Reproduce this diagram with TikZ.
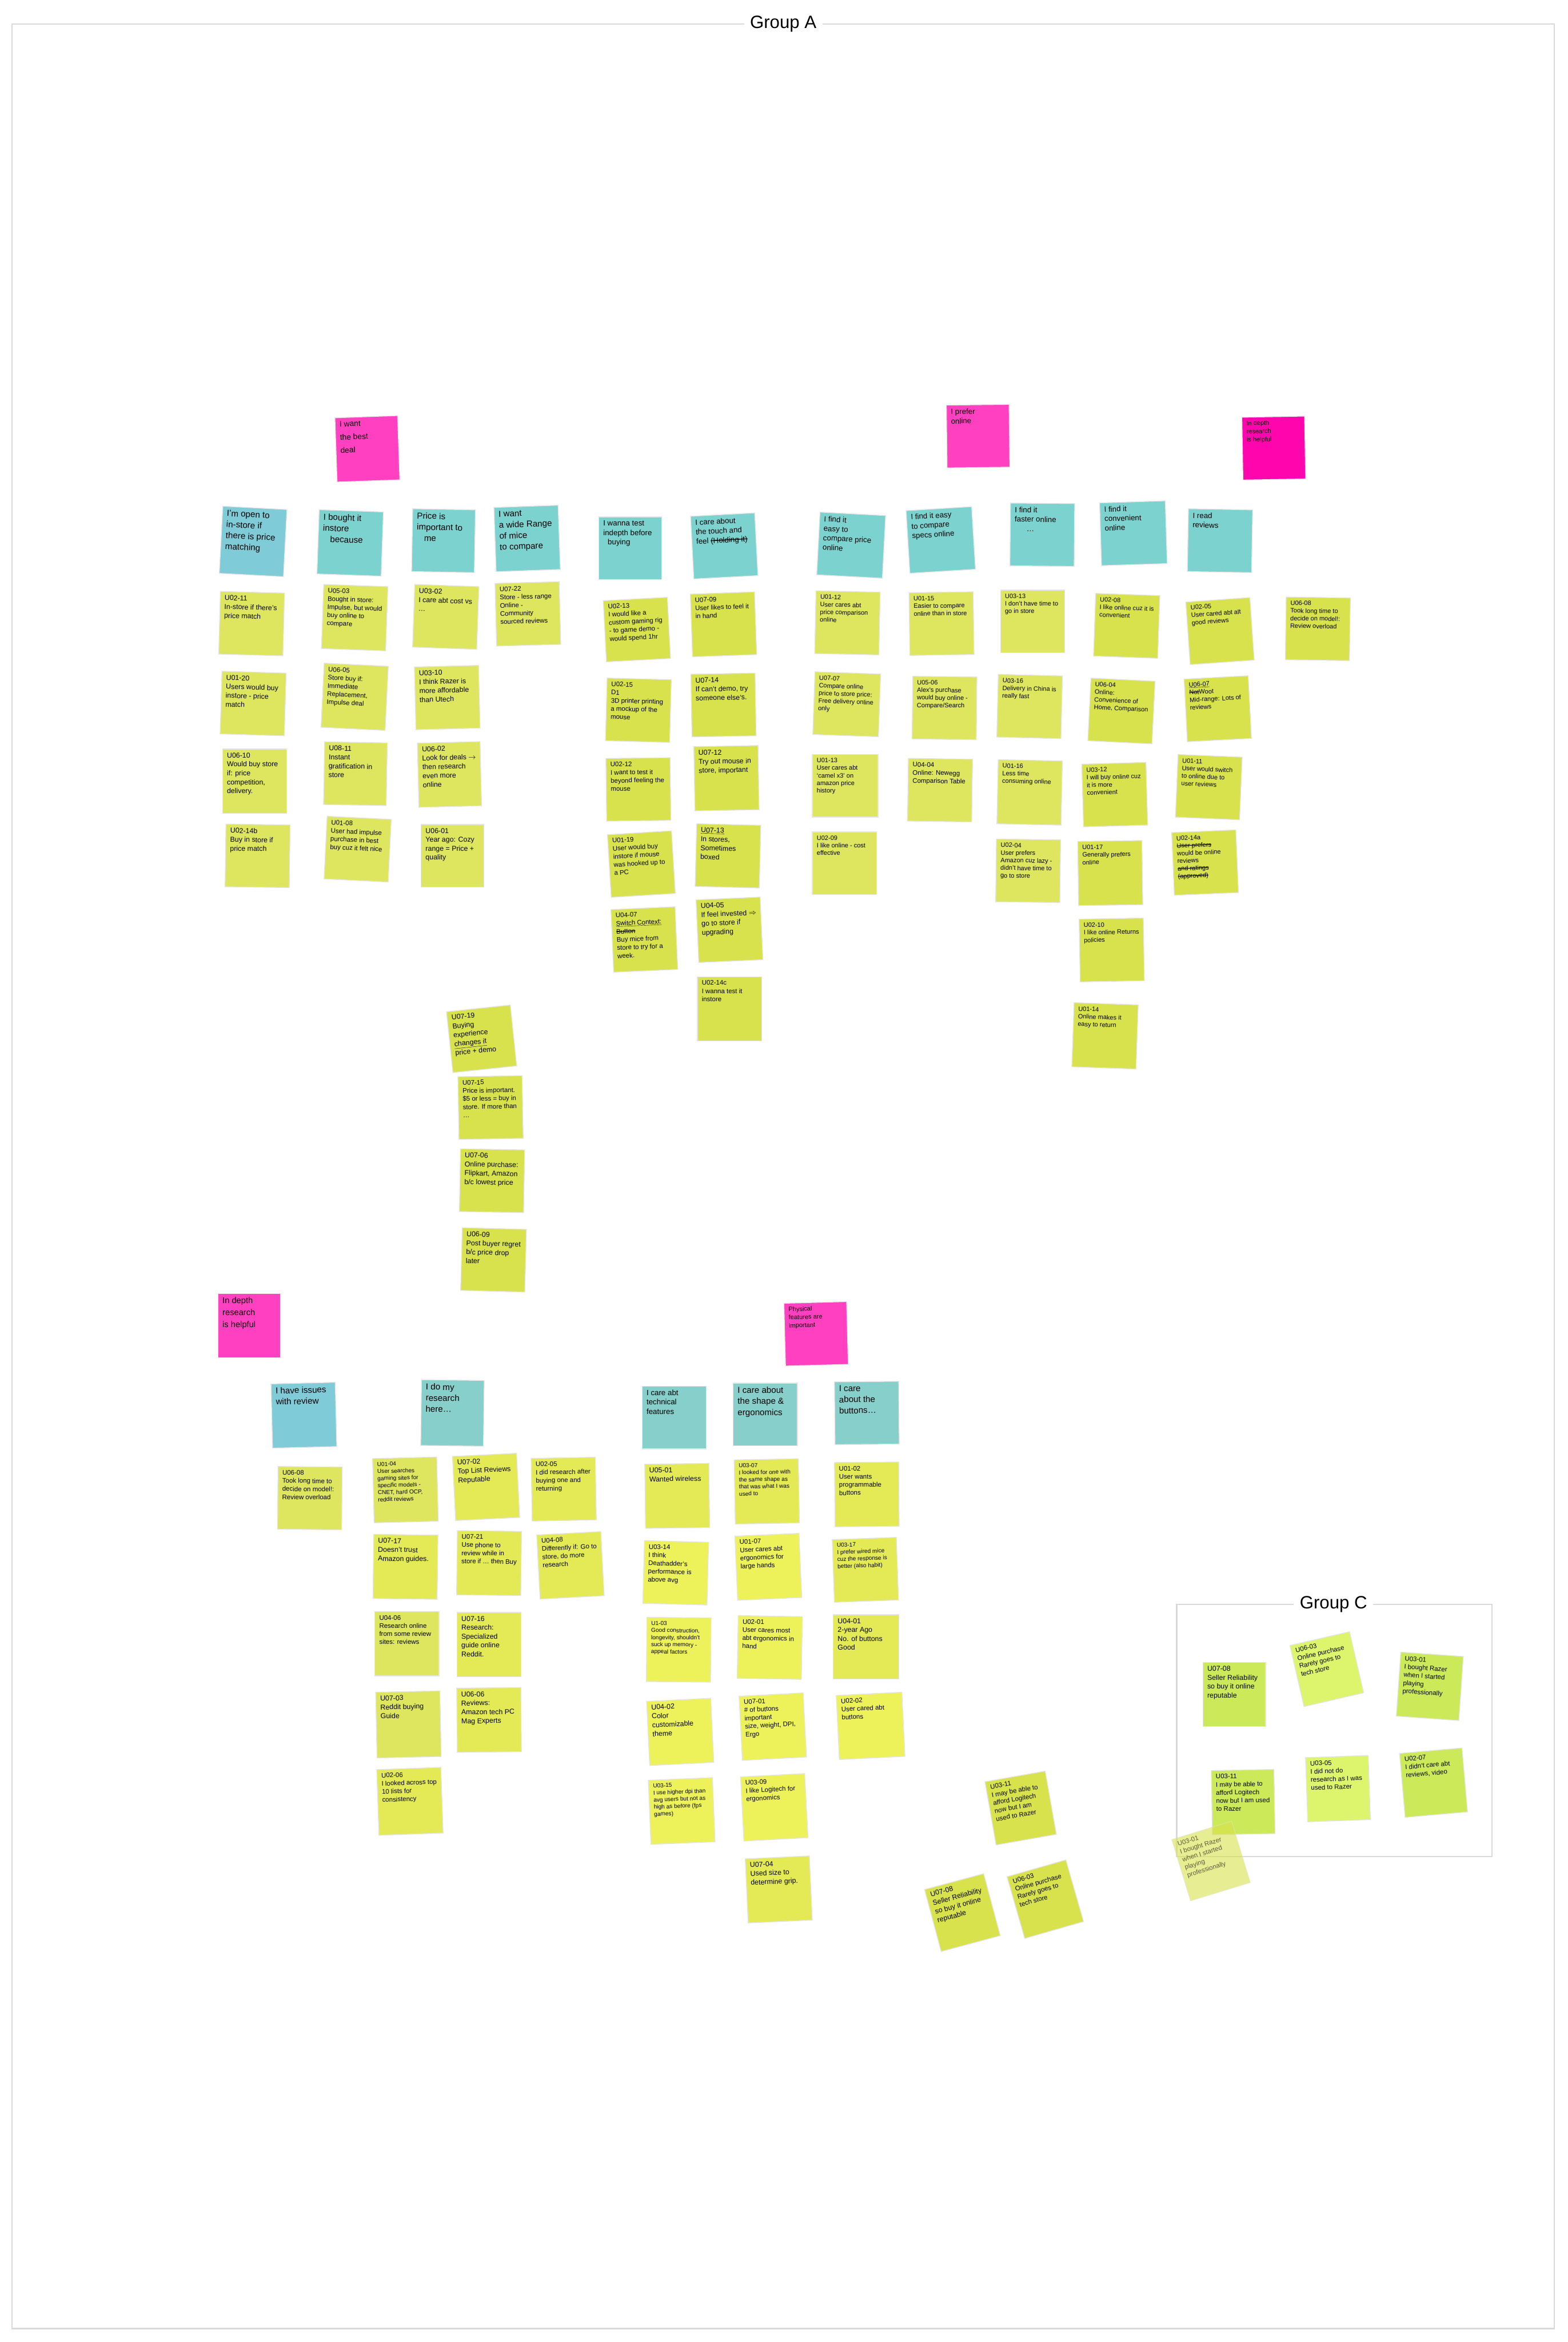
\documentclass[tikz,border=0pt]{standalone}
\usepackage{fontspec}
\setmainfont{Liberation Sans}
\definecolor{pinkA}{HTML}{FF40C0}
\definecolor{magA}{HTML}{FF05AE}
\definecolor{tealA}{HTML}{80CBD8}
\definecolor{tealB}{HTML}{7CD2CF}
\definecolor{tealC}{HTML}{86CFCB}
\definecolor{yelA}{HTML}{DDE65E}
\definecolor{yelB}{HTML}{D8E24C}
\definecolor{yelC}{HTML}{E3EA56}
\definecolor{yelD}{HTML}{EDF25A}
\definecolor{grnA}{HTML}{CCE95A}
\definecolor{grnB}{HTML}{DCF56C}
\newcommand{\ttx}{\fontsize{16.5}{21}\selectfont}
\newcommand{\tmx}{\fontsize{14.5}{18}\selectfont}
\newcommand{\tsx}{\fontsize{12}{15.5}\selectfont}
\newcommand{\ptx}{\fontsize{15}{25}\selectfont}
\newcommand{\pbx}{\fontsize{16}{23}\selectfont}
\newcommand{\ylg}{\fontsize{13.5}{17}\selectfont}
\newcommand{\ytx}{\fontsize{12.5}{15.5}\selectfont}
\newcommand{\yrt}{\fontsize{12}{14.5}\selectfont}
\newcommand{\ysm}{\fontsize{11}{13.5}\selectfont}
\newcommand{\strk}[1]{\leavevmode\setbox0\hbox{#1}\rlap{\rule[0.3em]{\wd0}{0.1em}}\box0}
\newcommand{\undl}[1]{\underline{#1}}
\tikzset{
  sticky/.style={draw=black!10, line width=0.5mm, inner xsep=3mm, inner ysep=2.5mm, outer sep=0pt, text=black},
  frameline/.style={draw=black!15, line width=0.8mm},
  grouplabel/.style={fill=white, inner xsep=4mm, inner ysep=1mm, text=black, font=\fontsize{34}{40}\selectfont}
}
\newcommand{\stk}[9]{\node[sticky,fill=#7,rotate=#6] (#1) at (#2,#3) {\parbox[c][\dimexpr #5mm-5mm\relax][t]{\dimexpr #4mm-6mm\relax}{#8\raggedright #9\par}};}
\begin{document}
\begin{tikzpicture}[x=1mm,y=-1mm]
\useasboundingbox (0,0) rectangle (1050,1568);
\fill[white] (0,0) rectangle (1050,1568);
% frames
\draw[frameline] (8,16) rectangle (1041,1559);
\node[grouplabel] (gA) at (524.5,16) {Group A};
\draw[frameline] (788,1074) rectangle (999,1243);
\node[grouplabel] (gC) at (893,1074) {Group C};
% ---- top-left cluster
\stk{pA}{246}{300.5}{42}{43}{2}{pinkA}{\ptx}{I want\\the best\\deal}
\stk{tA1}{169.5}{362.5}{43}{45}{-3}{tealA}{\ttx}{I'm open to\\in-store if\\there is price\\matching}
\stk{tA2}{234.5}{363.5}{43}{43}{-2}{tealB}{\ttx}{I bought it\\instore\\\hspace*{5mm}because}
\stk{tA3}{297}{362}{42}{42}{-1}{tealB}{\ttx}{Price is\\important to\\\hspace*{5mm}me}
\stk{tA4}{353}{360.5}{43}{43}{2}{tealB}{\ttx}{I want\\a wide Range\\of mice\\to compare}
\stk{yA1}{168.5}{417.5}{43}{42}{-1.5}{yelA}{\ylg}{U02-11\\In-store if there's price match}
\stk{yA2}{237.5}{413.5}{43}{43}{-2}{yelA}{\ytx}{U05-03\\Bought in store: Impulse, but would buy online to compare}
\stk{yA3}{298.5}{413}{43}{42}{-2}{yelA}{\ylg}{U03-02\\I care abt cost vs \dots}
\stk{yA4}{353.5}{411}{43}{42}{1.5}{yelA}{\ytx}{U07-22\\Store - less range\\Online - Community sourced reviews}
\stk{yA5}{169.5}{471}{43}{42}{-1.7}{yelA}{\ylg}{U01-20\\Users would buy instore - price match}
\stk{yA6}{237.5}{466.5}{43}{43}{-2.8}{yelA}{\ytx}{U06-05\\Store buy if: Immediate Replacement, Impulse deal}
\stk{yA7}{299.5}{467}{43}{42}{1.4}{yelA}{\ylg}{U03-10\\I think Razer is more affordable than Utech}
\stk{yA8}{170.5}{523}{43}{43}{0}{yelA}{\ylg}{U06-10\\Would buy store if: price competition, delivery.}
\stk{yA9}{238}{518}{42}{42}{-1}{yelA}{\ylg}{U08-11\\Instant gratification in store}
\stk{yA10}{301}{518.5}{42}{43}{1.4}{yelA}{\ylg}{U06-02\\Look for deals $\rightarrow$ then research even more online}
\stk{yA11}{172.5}{573}{43}{42}{-0.8}{yelA}{\ylg}{U02-14b\\Buy in store if price match}
\stk{yA12}{239.5}{568.5}{43}{42}{-2.8}{yelA}{\ytx}{U01-08\\User had impulse purchase in best buy cuz it felt nice}
\stk{yA13}{303}{573}{42}{42}{0}{yelA}{\ylg}{U06-01\\Year ago: Cozy range = Price + quality}
% ---- middle cluster
\stk{tB1}{422}{367}{42}{42}{0}{tealB}{\tmx}{I wanna test\\indepth before\\\hspace*{3mm}buying}
\stk{tB2}{485}{365.5}{43}{42}{3}{tealB}{\tmx}{I care about\\the touch and\\feel \strk{(Holding it)}}
\stk{yB1}{426.5}{421.5}{43}{41}{3}{yelB}{\ytx}{U02-13\\I would like a custom gaming rig - to game demo - would spend 1hr}
\stk{yB2}{484.5}{418}{43}{42}{2}{yelB}{\ytx}{U07-09\\User likes to feel it in hand}
\stk{yB3}{427.5}{475.5}{43}{42}{-1.5}{yelB}{\ytx}{U02-15\\D1\\3D printer printing a mockup of the mouse}
\stk{yB4}{484.5}{472}{43}{42}{1}{yelB}{\ylg}{U07-14\\If can't demo, try someone else's.}
\stk{yB5}{427.5}{528.5}{43}{42}{0.7}{yelB}{\ytx}{U02-12\\I want to test it beyond feeling the mouse}
\stk{yB6}{486.5}{521}{43}{43}{1}{yelB}{\ylg}{U07-12\\Try out mouse in store, important}
\stk{yB7}{429.5}{578.5}{43}{42}{3.5}{yelB}{\ytx}{U01-19\\User would buy instore if mouse was hooked up to a PC}
\stk{yB8}{487.5}{573}{43}{42}{-1.4}{yelB}{\ylg}{\undl{U07-13}\\In stores, Sometimes boxed}
\stk{yB9}{431.5}{629}{43}{42}{2.5}{yelB}{\ytx}{U04-07\\\undl{Switch Context:} \strk{Button}\\Buy mice from store to try for a week.}
\stk{yB10}{488.5}{622.5}{43}{42}{2.5}{yelB}{\ylg}{U04-05\\If feel invested $\Rightarrow$ go to store if upgrading}
\stk{yB11}{488.5}{675.5}{43}{43}{0}{yelB}{\ytx}{U02-14c\\I wanna test it instore}
% ---- column
\stk{yC1}{322.5}{695.5}{43}{41}{6}{yelB}{\ylg}{U07-19\\Buying experience \undl{changes it}\\price + demo}
\stk{yC2}{328.5}{741.5}{43}{42}{1}{yelB}{\ytx}{U07-15\\Price is important. \$5 or less = buy in store. If more than \dots}
\stk{yC3}{329.5}{790.5}{43}{42}{-1}{yelB}{\ylg}{U07-06\\Online purchase: Flipkart, Amazon b/c lowest price}
\stk{yC4}{330.5}{843.5}{43}{42}{-1.5}{yelB}{\ylg}{U06-09\\Post buyer regret b/c price drop later}
% ---- right cluster
\stk{pD1}{655}{292}{42}{42}{0.7}{pinkA}{\tmx}{I prefer\\online}
\stk{pD2}{853}{300}{42}{42}{1}{magA}{\tsx}{In depth\\research\\is helpful}
\stk{tD1}{570}{365}{44}{42}{-3}{tealB}{\tmx}{I find it\\easy to\\compare price\\online}
\stk{tD2}{630}{361.5}{44}{42}{3.5}{tealB}{\tmx}{I find it easy\\to compare\\specs online}
\stk{tD3}{698}{358}{43}{42}{-0.5}{tealB}{\tmx}{I find it\\faster online\\\hspace*{8mm}\dots}
\stk{tD4}{759}{357}{44}{42}{1.8}{tealB}{\tmx}{I find it\\convenient\\online}
\stk{tD5}{817}{362}{43}{42}{-1}{tealB}{\tmx}{I read\\reviews}
\stk{yD1}{567.5}{417}{43}{42}{-1.2}{yelA}{\yrt}{U01-12\\User cares abt price comparison online}
\stk{yD2}{567}{471.5}{44}{42}{-2}{yelA}{\yrt}{U07-07\\Compare online price to store price: Free delivery online only}
\stk{yD3}{566}{526}{44}{42}{0}{yelA}{\yrt}{U01-13\\User cares abt `camel x3' on amazon price history}
\stk{yD4}{565.5}{578}{43}{42}{0}{yelA}{\yrt}{U02-09\\I like online - cost effective}
\stk{yD5}{630.5}{417.5}{43}{42}{0.8}{yelA}{\yrt}{U01-15\\Easier to compare online than in store}
\stk{yD6}{632.5}{474}{43}{42}{-0.6}{yelA}{\yrt}{U05-06\\Alex's purchase would buy online - Compare/Search}
\stk{yD7}{629.5}{529}{43}{42}{-0.8}{yelA}{\ytx}{U04-04\\Online: Newegg Comparison Table}
\stk{yD8}{691.5}{416}{43}{42}{0}{yelA}{\yrt}{U03-13\\I don't have time to go in store}
\stk{yD9}{689.5}{473}{43}{42}{-1.4}{yelA}{\yrt}{U03-16\\Delivery in China is really fast}
\stk{yD10}{689.5}{530.5}{43}{43}{-1.2}{yelA}{\yrt}{U01-16\\Less time consuming online}
\stk{yD11}{688.5}{583}{43}{42}{-0.7}{yelA}{\yrt}{U02-04\\User prefers Amazon cuz lazy - didn't have time to go to store}
\stk{yD12}{754.5}{419}{43}{42}{-2}{yelB}{\yrt}{U02-08\\I like online cuz it is convenient}
\stk{yD13}{751}{476}{43}{42}{-2.8}{yelB}{\yrt}{U06-04\\Online: Convenience of Home, Comparison}
\stk{yD14}{746.5}{532}{43}{42}{1.6}{yelB}{\yrt}{U03-12\\I will buy online cuz it is more convenient}
\stk{yD15}{743.5}{584.5}{43}{43}{0.8}{yelB}{\yrt}{U01-17\\Generally prefers online}
\stk{yD16}{744.5}{636}{43}{42}{1}{yelB}{\yrt}{U02-10\\I like online Returns policies}
\stk{yD17}{740}{693.5}{43}{43}{-2}{yelB}{\yrt}{U01-14\\Online makes it easy to return}
\stk{yD18}{817}{422.5}{43}{42}{4}{yelB}{\yrt}{U02-05\\User cared abt alt good reviews}
\stk{yD19}{815.5}{474.5}{43}{42}{3}{yelB}{\yrt}{\undl{U06-07}\\\strk{Not} Woot\\Mid-range: Lots of reviews}
\stk{yD20}{809.5}{527}{43}{42}{-2.4}{yelB}{\yrt}{U01-11\\User would switch to online due to user reviews}
\stk{yD21}{807}{577.5}{43}{42}{2.4}{yelB}{\yrt}{U02-14a\\\strk{User prefers}\\would be online reviews\\\strk{and ratings}\\\strk{(approved)}}
\stk{yD22}{882.5}{421}{43}{42}{-0.8}{yelB}{\yrt}{U06-08\\Took long time to decide on model!: Review overload}
% ---- bottom-left cluster
\stk{pE1}{167}{887.5}{42}{43}{0}{pinkA}{\pbx}{In depth\\research\\is helpful}
\stk{tE1}{203.5}{947.5}{43}{43}{1.4}{tealA}{\ttx}{I have issues\\with review}
\stk{tE2}{303}{946}{42}{44}{-0.7}{tealC}{\ttx}{I do my\\research\\here\dots}
\stk{yE1}{207.5}{1003}{43}{42}{-0.5}{yelA}{\ytx}{U06-08\\Took long time to decide on model!: Review overload}
\stk{yE2}{271.5}{997.5}{43}{43}{1.4}{yelA}{\ysm}{U01-04\\User searches gaming sites for specific models - CNET, hard OCP, reddit reviews}
\stk{yE3}{325.5}{995.5}{43}{43}{2.8}{yelC}{\ylg}{U07-02\\Top List Reviews\\Reputable}
\stk{yE4}{377.5}{997}{43}{42}{1}{yelC}{\ytx}{U02-05\\I did research after buying one and returning}
\stk{yE5}{271.5}{1049}{43}{43}{-0.7}{yelC}{\ylg}{U07-17\\Doesn't trust Amazon guides.}
\stk{yE6}{327.5}{1046.5}{43}{43}{-0.7}{yelC}{\ytx}{U07-21\\Use phone to review while in store if \dots\ then Buy}
\stk{yE7}{382}{1048}{43}{43}{3}{yelC}{\ytx}{U04-08\\Differently if: Go to store, do more research}
\stk{yE8}{272.5}{1100.5}{43}{43}{0}{yelA}{\ytx}{U04-06\\Research online from some review sites: reviews}
\stk{yE9}{327.5}{1101}{43}{43}{0}{yelC}{\ylg}{U07-16\\Research: Specialized guide online Reddit.}
\stk{yE10}{273.5}{1154.5}{43}{44}{1.2}{yelA}{\ylg}{U07-03\\Reddit buying Guide}
\stk{yE11}{327.5}{1151.5}{43}{43}{0.5}{yelC}{\ylg}{U06-06\\Reviews: Amazon tech PC Mag Experts}
\stk{yE12}{274.5}{1206}{43}{44}{2}{yelC}{\ytx}{U02-06\\I looked across top 10 lists for consistency}
% ---- bottom-middle cluster
\stk{pF1}{546.5}{893}{42}{42}{1.5}{pinkA}{\tsx}{Physical\\features are\\important}
\stk{tF1}{451.5}{949}{43}{42}{0}{tealC}{\tmx}{I care abt\\technical\\features}
\stk{tF2}{512.5}{947}{43}{42}{0}{tealC}{\ttx}{I care about\\the shape \&\\ergonomics}
\stk{tF3}{580.5}{946}{43}{42}{0.5}{tealC}{\ttx}{I care\\about the\\buttons\dots}
\stk{yF1}{453.5}{1001.5}{43}{43}{0.7}{yelC}{\ylg}{U05-01\\Wanted wireless}
\stk{yF2}{513.5}{998.5}{43}{43}{1}{yelC}{\ysm}{U03-07\\I looked for one with the same shape as that was what I was used to}
\stk{yF3}{580.5}{1000.5}{43}{43}{0.5}{yelC}{\ytx}{U01-02\\User wants programmable buttons}
\stk{yF4}{452.5}{1053}{43}{42}{-1.5}{yelD}{\ytx}{U03-14\\I think Deathadder's performance is above avg}
\stk{yF5}{514.5}{1049}{43}{43}{2.5}{yelD}{\ytx}{U01-07\\User cares abt ergonomics for large hands}
\stk{yF6}{579.5}{1051}{43}{42}{2}{yelC}{\ysm}{U03-17\\I prefer wired mice cuz the response is better (also habit)}
\stk{yF7}{454.5}{1104.5}{43}{43}{-0.5}{yelD}{\ysm}{U1-03\\Good construction, longevity, shouldn't suck up memory - appeal factors}
\stk{yF8}{515.5}{1103}{43}{42}{-1}{yelD}{\ytx}{U02-01\\User cares most abt ergonomics in hand}
\stk{yF9}{580}{1102.5}{44}{43}{0}{yelC}{\ylg}{U04-01\\2-year Ago\\No. of buttons Good}
\stk{yF10}{455.5}{1159.5}{43}{43}{2.8}{yelD}{\ylg}{U04-02\\Color customizable theme}
\stk{yF11}{517.5}{1156}{43}{43}{3}{yelD}{\ytx}{U07-01\\\# of buttons important\\size, weight, DPI, Ergo}
\stk{yF12}{583}{1155.5}{44}{43}{2.8}{yelD}{\ytx}{U02-02\\User cared abt buttons}
\stk{yF13}{456.5}{1212.5}{43}{43}{2.3}{yelD}{\ysm}{U03-15\\I use higher dpi than avg users but not as high as before (fps games)}
\stk{yF14}{518.5}{1210}{43}{43}{3}{yelD}{\ytx}{U03-09\\I like Logitech for ergonomics}
\stk{yF15}{521.5}{1265}{43}{43}{2.6}{yelC}{\ylg}{U07-04\\Used size to determine grip.}
% ---- Group C
\stk{gC1}{826.5}{1134.5}{42}{43}{0}{grnA}{\ylg}{U07-08\\Seller Reliability so buy it online\\reputable}
\stk{gC2}{888.5}{1117.5}{41}{42}{13}{grnB}{\ytx}{U06-03\\Online purchase Rarely goes to tech store}
\stk{gC3}{957.5}{1129}{42}{43}{-4}{grnA}{\ytx}{U03-01\\I bought Razer when I started playing professionally}
\stk{gC4}{832.5}{1206.5}{42}{43}{1}{grnA}{\ytx}{U03-11\\I may be able to afford Logitech now but I am used to Razer}
\stk{gC5}{896}{1197.5}{42}{43}{2}{grnB}{\ytx}{U03-05\\I did not do research as I was used to Razer}
\stk{gC6}{960}{1193.5}{42}{43}{5}{grnA}{\ytx}{U02-07\\I didn't care abt reviews, video}
% ---- loose notes
\stk{lC1}{683.5}{1210.5}{41}{43}{10}{yelB}{\ytx}{U03-11\\I may be able to afford Logitech now but I am used to Razer}
\stk{lC2}{644.5}{1280.5}{41}{43}{15}{yelB}{\ylg}{U07-08\\Seller Reliability so buy it online\\reputable}
\stk{lC3}{700}{1271.5}{41}{43}{16}{yelB}{\ytx}{U06-03\\Online purchase Rarely goes to tech store}
\stk{lC4}{811}{1246}{42}{43}{17}{yelB, fill opacity=0.6, text opacity=0.6, draw opacity=0.4}{\ytx}{U03-01\\I bought Razer when I started playing professionally}
\end{tikzpicture}
\end{document}
